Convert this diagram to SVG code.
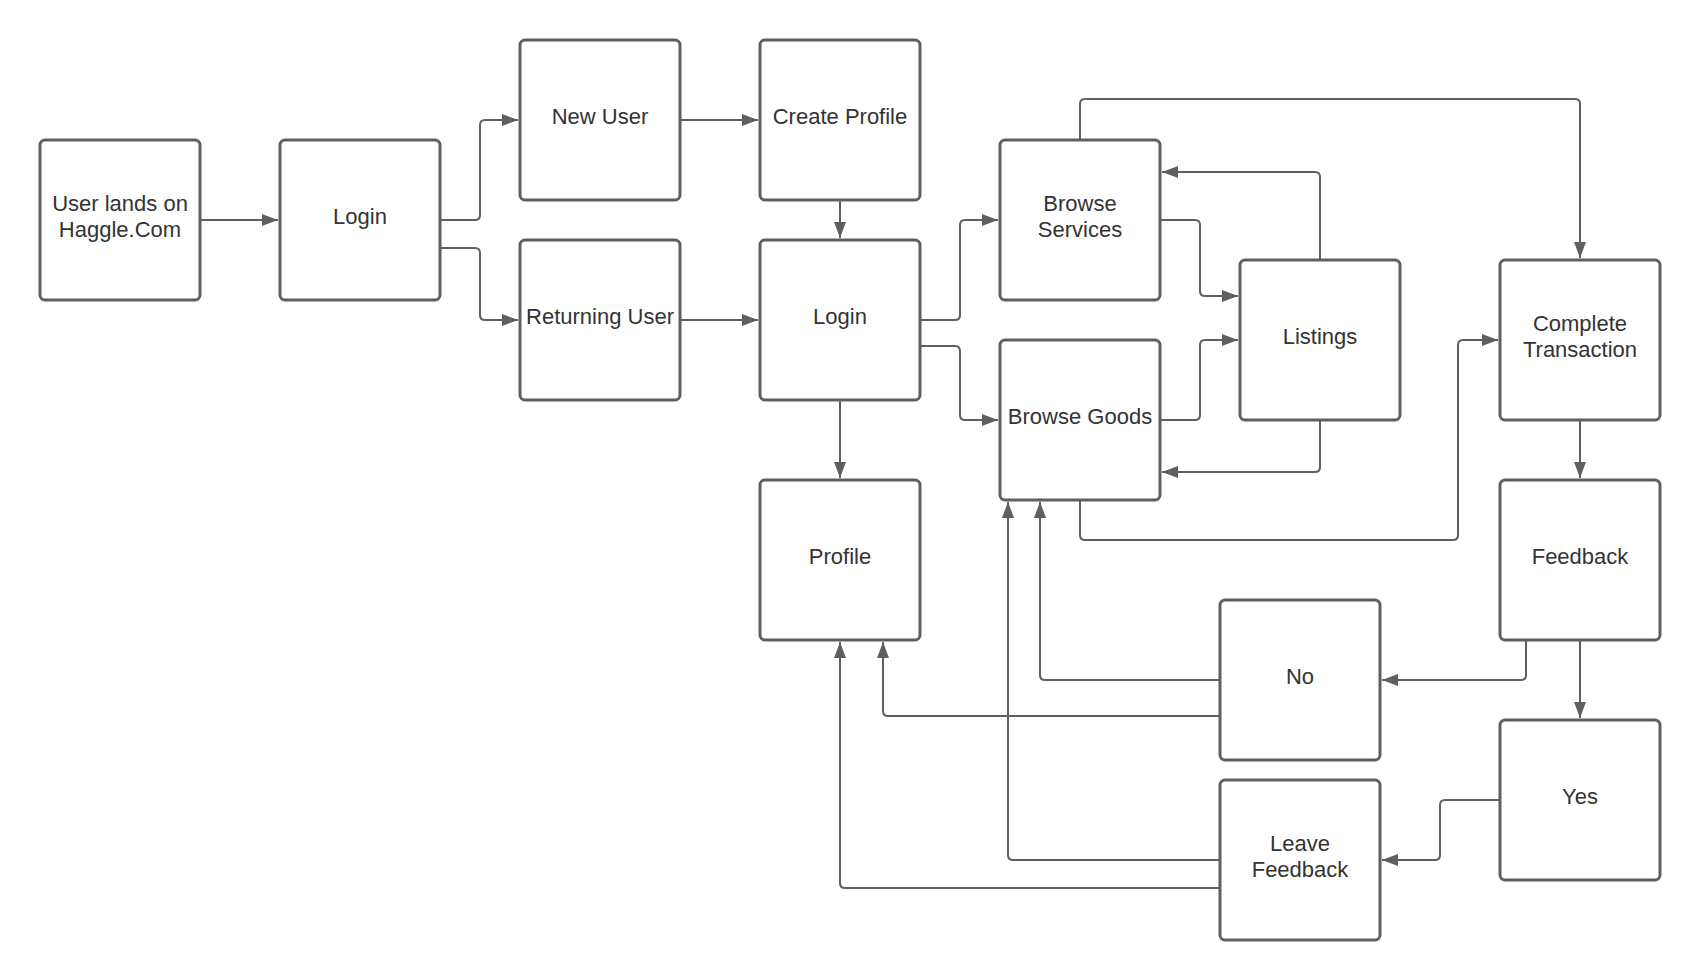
<svg xmlns="http://www.w3.org/2000/svg" width="1700" height="980" viewBox="0 0 1700 980">
<style>
.box{fill:#ffffff;stroke:#5f5f5f;stroke-width:3}
.t{font-family:"Liberation Sans",Arial,sans-serif;font-size:22px;fill:#333333;text-anchor:middle}
.c{fill:none;stroke:#5f5f5f;stroke-width:2;marker-end:url(#a)}
</style>
<defs>
<marker id="a" viewBox="0 0 16 12" refX="16" refY="6" markerWidth="16" markerHeight="12" markerUnits="userSpaceOnUse" orient="auto"><path d="M0,0 L16,6 L0,12 z" fill="#5f5f5f"/></marker>
</defs>
<rect width="1700" height="980" fill="#ffffff"/>
<g id="connectors">
<path class="c" d="M200,220 H278"/>
<path class="c" d="M440,220 H475 Q480,220 480,215 V125 Q480,120 485,120 H518"/>
<path class="c" d="M440,248 H475 Q480,248 480,253 V315 Q480,320 485,320 H518"/>
<path class="c" d="M680,120 H758"/>
<path class="c" d="M680,320 H758"/>
<path class="c" d="M840,200 V238"/>
<path class="c" d="M920,320 H955 Q960,320 960,315 V225 Q960,220 965,220 H998"/>
<path class="c" d="M920,346 H955 Q960,346 960,351 V415 Q960,420 965,420 H998"/>
<path class="c" d="M840,400 V478"/>
<path class="c" d="M1080,140 V104 Q1080,99 1085,99 H1575 Q1580,99 1580,104 V258"/>
<path class="c" d="M1160,220 H1195 Q1200,220 1200,225 V291 Q1200,296 1205,296 H1238"/>
<path class="c" d="M1160,420 H1195 Q1200,420 1200,415 V345 Q1200,340 1205,340 H1238"/>
<path class="c" d="M1320,260 V177 Q1320,172 1315,172 H1162"/>
<path class="c" d="M1320,420 V467 Q1320,472 1315,472 H1162"/>
<path class="c" d="M1080,500 V535 Q1080,540 1085,540 H1453 Q1458,540 1458,535 V345 Q1458,340 1463,340 H1498"/>
<path class="c" d="M1580,420 V478"/>
<path class="c" d="M1580,640 V718"/>
<path class="c" d="M1526,640 V675 Q1526,680 1521,680 H1382"/>
<path class="c" d="M1220,680 H1045 Q1040,680 1040,675 V502"/>
<path class="c" d="M1220,716 H888 Q883,716 883,711 V642"/>
<path class="c" d="M1500,800 H1445 Q1440,800 1440,805 V855 Q1440,860 1435,860 H1382"/>
<path class="c" d="M1220,860 H1013 Q1008,860 1008,855 V502"/>
<path class="c" d="M1220,888 H845 Q840,888 840,883 V642"/>
</g>
<g id="n-landing"><rect class="box" x="40" y="140" width="160" height="160" rx="5"/><text class="t" x="120" y="210.7">User lands on</text><text class="t" x="120" y="237.3">Haggle.Com</text></g>
<g id="n-login1"><rect class="box" x="280" y="140" width="160" height="160" rx="5"/><text class="t" x="360" y="224">Login</text></g>
<g id="n-newuser"><rect class="box" x="520" y="40" width="160" height="160" rx="5"/><text class="t" x="600" y="124">New User</text></g>
<g id="n-returning"><rect class="box" x="520" y="240" width="160" height="160" rx="5"/><text class="t" x="600" y="324">Returning User</text></g>
<g id="n-createprofile"><rect class="box" x="760" y="40" width="160" height="160" rx="5"/><text class="t" x="840" y="124">Create Profile</text></g>
<g id="n-login2"><rect class="box" x="760" y="240" width="160" height="160" rx="5"/><text class="t" x="840" y="324">Login</text></g>
<g id="n-profile"><rect class="box" x="760" y="480" width="160" height="160" rx="5"/><text class="t" x="840" y="564">Profile</text></g>
<g id="n-services"><rect class="box" x="1000" y="140" width="160" height="160" rx="5"/><text class="t" x="1080" y="210.7">Browse</text><text class="t" x="1080" y="237.3">Services</text></g>
<g id="n-goods"><rect class="box" x="1000" y="340" width="160" height="160" rx="5"/><text class="t" x="1080" y="424">Browse Goods</text></g>
<g id="n-listings"><rect class="box" x="1240" y="260" width="160" height="160" rx="5"/><text class="t" x="1320" y="344">Listings</text></g>
<g id="n-transaction"><rect class="box" x="1500" y="260" width="160" height="160" rx="5"/><text class="t" x="1580" y="330.7">Complete</text><text class="t" x="1580" y="357.3">Transaction</text></g>
<g id="n-feedback"><rect class="box" x="1500" y="480" width="160" height="160" rx="5"/><text class="t" x="1580" y="564">Feedback</text></g>
<g id="n-no"><rect class="box" x="1220" y="600" width="160" height="160" rx="5"/><text class="t" x="1300" y="684">No</text></g>
<g id="n-yes"><rect class="box" x="1500" y="720" width="160" height="160" rx="5"/><text class="t" x="1580" y="804">Yes</text></g>
<g id="n-leavefeedback"><rect class="box" x="1220" y="780" width="160" height="160" rx="5"/><text class="t" x="1300" y="850.7">Leave</text><text class="t" x="1300" y="877.3">Feedback</text></g>
</svg>
